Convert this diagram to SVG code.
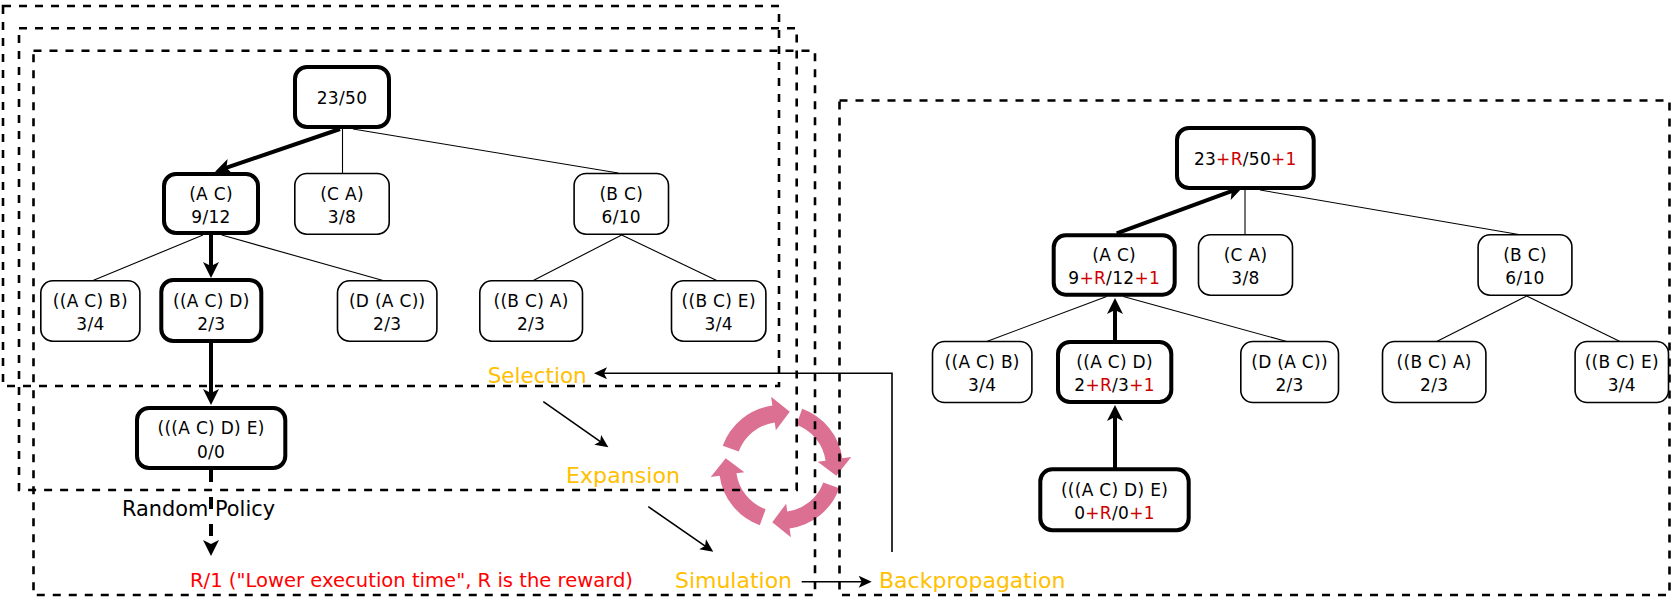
<svg xmlns="http://www.w3.org/2000/svg" width="1674" height="600" viewBox="0 0 1674 600">
<style>
  .frame { fill: none; stroke: #000; stroke-width: 2.6; stroke-dasharray: 8 8; }
  .node rect { fill: #fff; stroke: #000; }
  .thin rect { stroke-width: 1.6; }
  .thick rect { stroke-width: 4; }
  .node text { font-family: "DejaVu Sans", "Liberation Sans", sans-serif; font-size: 17px; letter-spacing: 0.3px; text-anchor: middle; fill: #000; }
  .r { fill: #CC0000; }
  .edge { stroke: #000; stroke-width: 1.1; fill: none; }
  .bold { stroke: #000; stroke-width: 4; fill: none; }
  .flow { stroke: #000; stroke-width: 1.6; fill: none; }
  .phase { font-family: "DejaVu Sans", "Liberation Sans", sans-serif; font-size: 21px; fill: #FFC000; }
  .lbl { font-family: "DejaVu Sans", "Liberation Sans", sans-serif; }
  .cyc { fill: #DB7093; }
</style>
<defs>
  <marker id="ah" viewBox="-8 -9 20 18" refX="0" refY="0" markerWidth="20" markerHeight="18" orient="auto" markerUnits="userSpaceOnUse">
    <path d="M10,0 L-6,-8 L-2,0 L-6,8 Z" fill="#000"/>
  </marker>
  <marker id="ahs" viewBox="-8 -7 18 14" refX="0" refY="0" markerWidth="18" markerHeight="14" orient="auto" markerUnits="userSpaceOnUse">
    <path d="M8,0 L-5,-6 L-2,0 L-5,6 Z" fill="#000"/>
  </marker>
  <path id="cycArrow" d="M -58.26,-21.20 A 62 62 0 0 1 -8.63,-61.40 L -9.88,-70.31 L 8.76,-55.31 L -5.15,-36.64 L -6.26,-44.56 A 45 45 0 0 0 -42.29,-15.39 Z"/>
</defs>

<!-- cycle icon -->
<g id="cycle" class="cyc">
  <use href="#cycArrow" transform="translate(781,467)"/>
  <use href="#cycArrow" transform="translate(781,467) rotate(90)"/>
  <use href="#cycArrow" transform="translate(781,467) rotate(180)"/>
  <use href="#cycArrow" transform="translate(781,467) rotate(270)"/>
</g>

<!-- dashed frames -->
<g id="frames">
  <rect class="frame" x="3" y="6" width="776" height="380"/>
  <rect class="frame" x="19" y="28.3" width="777.7" height="461.7"/>
  <rect class="frame" x="33.5" y="50.7" width="781.5" height="544.3"/>
  <rect class="frame" x="839.5" y="100.5" width="830" height="494.5"/>
</g>

<!-- connectors -->
<g id="connectors">
  <!-- left tree -->
  <line class="bold" x1="340" y1="129" x2="224.5" y2="168.4" marker-end="url(#ah)"/>
  <line class="edge" x1="342.5" y1="129" x2="342.5" y2="173"/>
  <line class="edge" x1="353" y1="129" x2="618.3" y2="173"/>
  <line class="edge" x1="203" y1="235" x2="93" y2="280.5"/>
  <line class="bold" x1="211" y1="235" x2="211" y2="268" marker-end="url(#ah)"/>
  <line class="edge" x1="221.7" y1="235" x2="383" y2="280.5"/>
  <line class="edge" x1="621.7" y1="235" x2="533.3" y2="280.5"/>
  <line class="edge" x1="621.7" y1="235" x2="716.7" y2="280.5"/>
  <line class="bold" x1="211" y1="343" x2="211" y2="395" marker-end="url(#ah)"/>
  <line class="bold" x1="211" y1="470" x2="211" y2="546" stroke-dasharray="12 15" marker-end="url(#ah)"/>
  <!-- right tree -->
  <line class="bold" x1="1116.7" y1="233.3" x2="1233.6" y2="190.4" marker-end="url(#ah)"/>
  <line class="edge" x1="1245" y1="190" x2="1245" y2="235"/>
  <line class="edge" x1="1260" y1="190" x2="1521.7" y2="235"/>
  <line class="edge" x1="1106.7" y1="296.5" x2="986.7" y2="341.5"/>
  <line class="bold" x1="1115" y1="342" x2="1115" y2="308" marker-end="url(#ah)"/>
  <line class="edge" x1="1123.3" y1="296.5" x2="1286.7" y2="341.5"/>
  <line class="edge" x1="1526.7" y1="296" x2="1436.7" y2="341.5"/>
  <line class="edge" x1="1526.7" y1="296" x2="1620" y2="341.5"/>
  <line class="bold" x1="1115" y1="469" x2="1115" y2="415" marker-end="url(#ah)"/>
  <!-- process flow -->
  <line class="flow" x1="543.3" y1="401.7" x2="601.8" y2="442.7" marker-end="url(#ahs)"/>
  <line class="flow" x1="648.3" y1="506.7" x2="706.7" y2="547.1" marker-end="url(#ahs)"/>
  <line class="flow" x1="801.7" y1="581.7" x2="863.7" y2="581.7" marker-end="url(#ahs)"/>
  <path class="flow" d="M892,552 V373.3 H602" marker-end="url(#ahs)"/>
</g>

<!-- left tree nodes -->
<g id="L_root" class="node thick"><rect x="295" y="67" width="94" height="60" rx="12"/><text x="342" y="104">23/50</text></g>
<g id="L_AC" class="node thick"><rect x="164" y="174" width="94" height="59" rx="12"/><text x="211" y="199.5">(A C)</text><text x="211" y="223">9/12</text></g>
<g id="L_CA" class="node thin"><rect x="294.8" y="173.5" width="94.4" height="60.7" rx="12"/><text x="342" y="199.5">(C A)</text><text x="342" y="223">3/8</text></g>
<g id="L_BC" class="node thin"><rect x="574.1" y="173.5" width="94.4" height="60.7" rx="12"/><text x="621.3" y="199.5">(B C)</text><text x="621.3" y="223">6/10</text></g>
<g id="L_ACB" class="node thin"><rect x="40.8" y="280.8" width="99.1" height="60.4" rx="12"/><text x="90.4" y="306.5">((A C) B)</text><text x="90.4" y="330">3/4</text></g>
<g id="L_ACD" class="node thick"><rect x="161.3" y="280" width="100" height="61" rx="12"/><text x="211.3" y="306.5">((A C) D)</text><text x="211.3" y="330">2/3</text></g>
<g id="L_DAC" class="node thin"><rect x="337.5" y="280.8" width="99.4" height="60.4" rx="12"/><text x="387.2" y="306.5">(D (A C))</text><text x="387.2" y="330">2/3</text></g>
<g id="L_BCA" class="node thin"><rect x="479.8" y="280.8" width="102.7" height="60.4" rx="12"/><text x="531.1" y="306.5">((B C) A)</text><text x="531.1" y="330">2/3</text></g>
<g id="L_BCE" class="node thin"><rect x="671.5" y="280.8" width="94.4" height="60.4" rx="12"/><text x="718.7" y="306.5">((B C) E)</text><text x="718.7" y="330">3/4</text></g>
<g id="L_ACDE" class="node thick"><rect x="137" y="408" width="148.3" height="60" rx="12"/><text x="211.1" y="434">(((A C) D) E)</text><text x="211.1" y="457.5">0/0</text></g>

<!-- right tree nodes -->
<g id="R_root" class="node thick"><rect x="1177" y="128" width="136.7" height="60" rx="12"/><text x="1245.3" y="165">23<tspan class="r">+R</tspan>/50<tspan class="r">+1</tspan></text></g>
<g id="R_AC" class="node thick"><rect x="1053.7" y="235.3" width="121" height="59.4" rx="12"/><text x="1114.2" y="260.5">(A C)</text><text x="1114.2" y="284">9<tspan class="r">+R</tspan>/12<tspan class="r">+1</tspan></text></g>
<g id="R_CA" class="node thin"><rect x="1198.5" y="234.8" width="94" height="60.4" rx="12"/><text x="1245.5" y="260.5">(C A)</text><text x="1245.5" y="284">3/8</text></g>
<g id="R_BC" class="node thin"><rect x="1478.1" y="234.8" width="93.8" height="60.4" rx="12"/><text x="1525" y="260.5">(B C)</text><text x="1525" y="284">6/10</text></g>
<g id="R_ACB" class="node thin"><rect x="932.5" y="341.5" width="99.4" height="61" rx="12"/><text x="982.2" y="367.5">((A C) B)</text><text x="982.2" y="391">3/4</text></g>
<g id="R_ACD" class="node thick"><rect x="1058" y="342" width="113.3" height="60" rx="12"/><text x="1114.6" y="367.5">((A C) D)</text><text x="1114.6" y="391">2<tspan class="r">+R</tspan>/3<tspan class="r">+1</tspan></text></g>
<g id="R_DAC" class="node thin"><rect x="1240.8" y="341.5" width="97.7" height="61" rx="12"/><text x="1289.6" y="367.5">(D (A C))</text><text x="1289.6" y="391">2/3</text></g>
<g id="R_BCA" class="node thin"><rect x="1382.5" y="341.5" width="103.4" height="61" rx="12"/><text x="1434.2" y="367.5">((B C) A)</text><text x="1434.2" y="391">2/3</text></g>
<g id="R_BCE" class="node thin"><rect x="1575.1" y="341.5" width="93.4" height="61" rx="12"/><text x="1621.8" y="367.5">((B C) E)</text><text x="1621.8" y="391">3/4</text></g>
<g id="R_ACDE" class="node thick"><rect x="1040.3" y="469.3" width="148.4" height="61" rx="12"/><text x="1114.5" y="495.5">(((A C) D) E)</text><text x="1114.5" y="519">0<tspan class="r">+R</tspan>/0<tspan class="r">+1</tspan></text></g>

<!-- labels -->
<g id="labels">
  <text class="lbl" x="122" y="515.7" font-size="20.5" fill="#000" textLength="153" lengthAdjust="spacingAndGlyphs">Random Policy</text>
  <text class="lbl" x="190" y="587" font-size="19" fill="#FF0000" textLength="443" lengthAdjust="spacingAndGlyphs">R/1 ("Lower execution time", R is the reward)</text>
  <text class="phase" x="487.7" y="382.7" textLength="99" lengthAdjust="spacingAndGlyphs">Selection</text>
  <text class="phase" x="566" y="483.3" textLength="114" lengthAdjust="spacingAndGlyphs">Expansion</text>
  <text class="phase" x="675" y="588" textLength="117" lengthAdjust="spacingAndGlyphs">Simulation</text>
  <text class="phase" x="879" y="587.5" textLength="186.5" lengthAdjust="spacingAndGlyphs">Backpropagation</text>
</g>
</svg>
